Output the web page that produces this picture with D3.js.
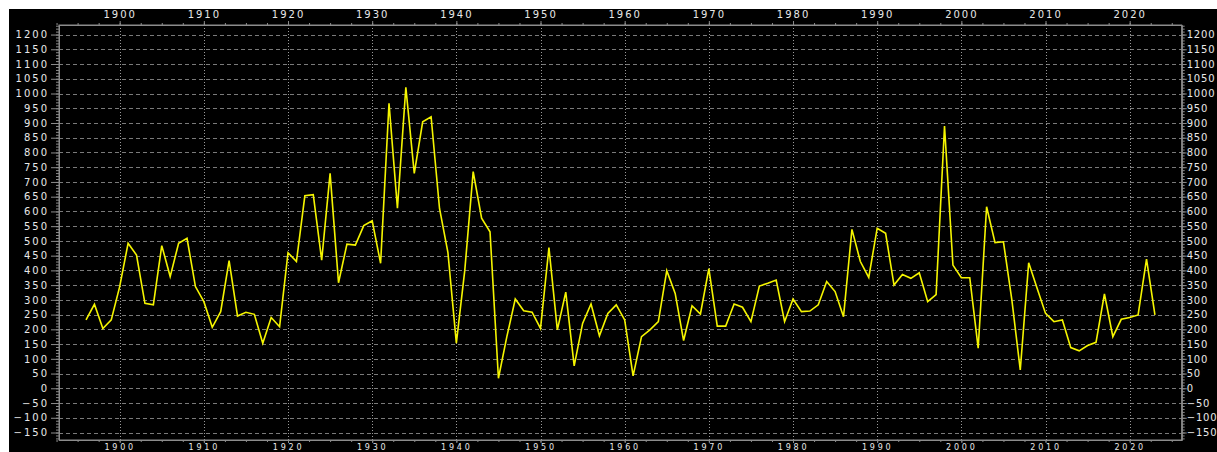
<!DOCTYPE html>
<html><head><meta charset="utf-8">
<script src="https://cdn.jsdelivr.net/npm/d3@7"></script>
<style>body{margin:0;background:#fff;}svg{display:block;}</style>
</head><body>
<svg id="chart" width="1217" height="452"></svg>
<script>
const years = [1896,1897,1898,1899,1900,1901,1902,1903,1904,1905,1906,1907,1908,1909,1910,1911,1912,1913,1914,1915,1916,1917,1918,1919,1920,1921,1922,1923,1924,1925,1926,1927,1928,1929,1930,1931,1932,1933,1934,1935,1936,1937,1938,1939,1940,1941,1942,1943,1944,1945,1946,1947,1948,1949,1950,1951,1952,1953,1954,1955,1956,1957,1958,1959,1960,1961,1962,1963,1964,1965,1966,1967,1968,1969,1970,1971,1972,1973,1974,1975,1976,1977,1978,1979,1980,1981,1982,1983,1984,1985,1986,1987,1988,1989,1990,1991,1992,1993,1994,1995,1996,1997,1998,1999,2000,2001,2002,2003,2004,2005,2006,2007,2008,2009,2010,2011,2012,2013,2014,2015,2016,2017,2018,2019,2020,2021,2022,2023];
const values = [232,285,203,232,345,492,452,288,283,484,379,492,509,345,294,207,260,433,245,258,251,153,240,209,460,430,653,657,435,729,358,489,486,552,568,424,967,611,1021,729,904,921,610,460,153,400,735,577,531,34,175,303,263,258,203,477,198,326,76,220,286,178,254,283,232,42,175,198,226,399,322,162,280,252,406,211,211,286,275,226,347,356,367,226,303,260,262,283,362,328,243,539,430,376,543,526,350,386,373,392,294,318,890,418,375,375,136,616,494,497,300,62,426,339,254,226,232,138,127,145,156,320,175,234,240,249,438,249];
const yMajorTicks = [-150,-100,-50,0,50,100,150,200,250,300,350,400,450,500,550,600,650,700,750,800,850,900,950,1000,1050,1100,1150,1200];
const xMajorTicks = [1900,1910,1920,1930,1940,1950,1960,1970,1980,1990,2000,2010,2020];

const svg = d3.select("#chart");
const L = 59, R = 1181.7, T = 25, B = 440;
const x = d3.scaleLinear().domain([1892.79, 2026.18]).range([L, R]);
const y = d3.scaleLinear().domain([-175.4, 1232.4]).range([B, T]);

svg.append("rect").attr("x", 9).attr("y", 9).attr("width", 1208).attr("height", 443).attr("fill", "#000");

const gridCol = "#7a7a7a";
svg.append("g").selectAll("line").data(yMajorTicks).join("line")
  .attr("x1", L).attr("x2", R)
  .attr("y1", d => Math.round(y(d)) + 0.5).attr("y2", d => Math.round(y(d)) + 0.5)
  .attr("stroke", gridCol).attr("stroke-width", 1).attr("stroke-dasharray", "4,3");
svg.append("g").selectAll("line").data(xMajorTicks).join("line")
  .attr("y1", T).attr("y2", B)
  .attr("x1", d => Math.round(x(d)) + 0.5).attr("x2", d => Math.round(x(d)) + 0.5)
  .attr("stroke", "#9a9a9a").attr("stroke-width", 1).attr("stroke-dasharray", "1,2");

const yMinor = d3.range(-170, 1231, 10);
const xMinor = d3.range(1892.5, 2026.2, 2.5);
const axisCol = "#8c8c8c";
const font = "DejaVu Sans, sans-serif";

function styleAxis(g, spacing, size) {
  g.selectAll("path.domain").attr("stroke", axisCol);
  g.selectAll(".tick line").attr("stroke", axisCol);
  g.selectAll("text").attr("fill", "#e8e8e8").attr("font-family", font)
    .attr("font-size", size || 10).attr("letter-spacing", (spacing == null ? 2 : spacing) + "px");
}

svg.append("g").attr("transform", `translate(${L},0)`)
  .call(d3.axisLeft(y).tickValues(yMinor).tickSize(3).tickFormat("").tickSizeOuter(0)).call(styleAxis);
svg.append("g").attr("transform", `translate(${R},0)`)
  .call(d3.axisRight(y).tickValues(yMinor).tickSize(3).tickFormat("").tickSizeOuter(0)).call(styleAxis);
svg.append("g").attr("transform", `translate(0,${T})`)
  .call(d3.axisTop(x).tickValues(xMinor).tickSize(2).tickFormat("").tickSizeOuter(0)).call(styleAxis);
svg.append("g").attr("transform", `translate(0,${B})`)
  .call(d3.axisBottom(x).tickValues(xMinor).tickSize(2).tickFormat("").tickSizeOuter(0)).call(styleAxis);

svg.append("g").attr("transform", `translate(${L},0)`)
  .call(d3.axisLeft(y).tickValues(yMajorTicks).tickSize(8).tickPadding(2).tickFormat(d3.format("d")).tickSizeOuter(0)).call(styleAxis);
svg.append("g").attr("transform", `translate(${R},0)`)
  .call(d3.axisRight(y).tickValues(yMajorTicks).tickSize(5).tickPadding(0).tickFormat(d3.format("d")).tickSizeOuter(0)).call(g => styleAxis(g, 0.8));
svg.append("g").attr("transform", `translate(0,${T})`)
  .call(d3.axisTop(x).tickValues(xMajorTicks).tickSize(4).tickPadding(3).tickFormat(d3.format("d")).tickSizeOuter(0)).call(styleAxis);
svg.append("g").attr("transform", `translate(0,${B})`)
  .call(d3.axisBottom(x).tickValues(xMajorTicks).tickSize(3).tickPadding(1).tickFormat(d3.format("d")).tickSizeOuter(0)).call(g => styleAxis(g, 2.8, 8));

svg.append("rect").attr("x", L).attr("y", T).attr("width", R - L).attr("height", B - T)
  .attr("fill", "none").attr("stroke", axisCol).attr("stroke-width", 1);

const line = d3.line().x((d, i) => x(years[i])).y(d => y(d));
svg.append("path").datum(values).attr("d", line)
  .attr("fill", "none").attr("stroke", "#f5f500").attr("stroke-width", 1.6).attr("stroke-linejoin", "miter");
</script>
</body></html>
